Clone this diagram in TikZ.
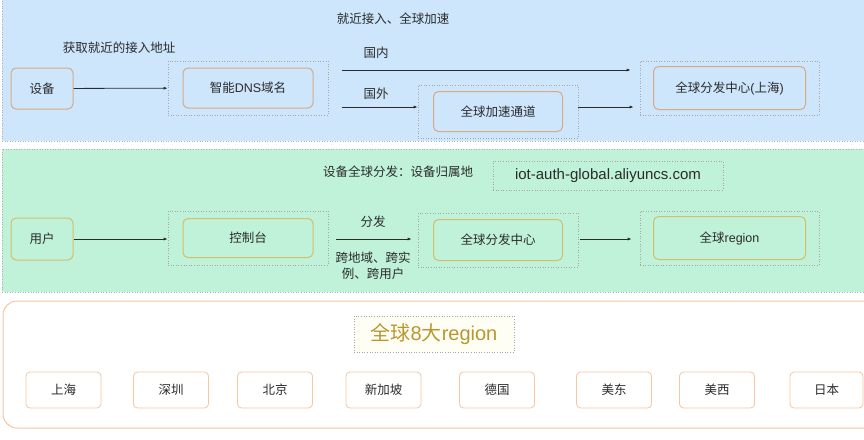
\documentclass[tikz,border=0pt]{standalone}
\usepackage{fontspec}
\setmainfont{Noto Sans CJK SC}
\newfontfamily\latfont{Liberation Sans}
\newcommand{\lat}[1]{{\latfont #1}}
\usetikzlibrary{arrows.meta,positioning}
\definecolor{skyfill}{HTML}{CDE6FC}
\definecolor{mintfill}{HTML}{BFF2D9}
\definecolor{rustline}{HTML}{D9A982}
\definecolor{oliveline}{HTML}{D4BE6B}
\definecolor{peachline}{HTML}{F5C6A0}
\definecolor{goldtext}{HTML}{B8972E}
\definecolor{inktext}{HTML}{2B2B2B}

\begin{document}
\begin{tikzpicture}[
  x=1pt, y=1pt,
  every node/.style={text=inktext, font=\fontsize{12.5pt}{15pt}\selectfont},
  panel/.style={draw=gray!60, dotted, line width=0.6pt},
  holder/.style={draw=gray!70, dotted, line width=0.6pt, minimum width=160pt, minimum height=54pt, inner sep=0pt},
  box/.style={draw=rustline, rounded corners=5pt, line width=1pt, minimum width=130pt, minimum height=40pt, inner sep=0pt, align=center},
  regionbox/.style={draw=peachline, rounded corners=4pt, line width=0.8pt, fill=white, minimum width=75pt, minimum height=36pt, inner sep=0pt},
  lbl/.style={inner sep=1pt, align=center},
  flow/.style={-{Latex[length=4pt,width=3pt]}, draw=inktext, line width=0.8pt}
]
\useasboundingbox (0,0) rectangle (864,-439);

% top panel
\fill[skyfill] (2,2) rectangle (870,-141);
\draw[panel] (2,2) rectangle (870,-141);
\node[lbl] (title1) at (393,-19) {就近接入、全球加速};
\node[lbl] (hint) at (119,-48) {获取就近的接入地址};
\node[box, minimum width=62pt, minimum height=41pt] (dev) at (42,-88.5) {设备};
\node[holder] (dnsHold) at (248,-88) {};
\node[box] (dns) at (dnsHold) {智能\lat{DNS}域名};
\node[holder, minimum height=53pt] (accelHold) at (498,-111.5) {};
\node[box, minimum width=129pt] (accel) at (accelHold) {全球加速通道};
\node[holder, minimum width=179pt] (hubHold) at (729.5,-88) {};
\node[box, minimum width=152pt, minimum height=43pt] (hub) at (hubHold) {全球分发中心\lat{(}上海\lat{)}};
\node[lbl] (dom) at (376,-53) {国内};
\node[lbl] (abroad) at (376,-94) {国外};
\draw[flow] (dev) -- (dnsHold);
\draw[flow, shorten <=14pt, shorten >=9pt] ([yshift=18pt]dnsHold.east) -- ([yshift=18pt]hubHold.west);
\draw[flow, shorten <=14pt] ([yshift=-19pt]dnsHold.east) -- ([yshift=-19pt]dnsHold.east -| accelHold.west);
\draw[flow, shorten >=6pt] ([yshift=-19pt]hubHold.west -| accelHold.east) -- ([yshift=-19pt]hubHold.west);

% middle panel
\fill[mintfill] (2,-149) rectangle (870,-292);
\draw[panel] (2,-149) rectangle (870,-292);
\node[lbl] (title2) at (398,-172) {设备全球分发：设备归属地};
\node[draw=gray!70, dotted, line width=0.6pt, minimum width=230pt, minimum height=29pt, inner sep=0pt,
  font=\fontsize{15pt}{18pt}\selectfont] (domain) at (608,-175.5) {\lat{iot-auth-global.aliyuncs.com}};
\node[box, draw=oliveline, minimum width=62pt, minimum height=42pt] (user) at (42,-239) {用户};
\node[holder] (consoleHold) at (248,-238) {};
\node[box, draw=oliveline, minimum height=39pt] (console) at (consoleHold) {控制台};
\node[holder] (distHold) at (498,-240) {};
\node[box, draw=oliveline, minimum width=129pt, minimum height=41pt] (dist) at (distHold) {全球分发中心};
\node[holder, minimum width=179pt] (regionHold) at (729.5,-238) {};
\node[box, draw=oliveline, minimum width=152pt, minimum height=43pt] (region) at (regionHold) {全球\lat{region}};
\node[lbl] (fanout) at (373,-222) {分发};
\node[lbl, font=\fontsize{12.5pt}{16pt}\selectfont] (scope) at (373,-266) {跨地域、跨实\\例、跨用户};
\draw[flow] (user) -- ([yshift=-1pt]consoleHold.west);
\draw[flow, shorten <=8pt, shorten >=6pt] ([yshift=-1pt]consoleHold.east) -- ([yshift=-1pt]consoleHold.east -| distHold.west);
\draw[flow, shorten <=2pt, shorten >=8pt] ([yshift=1pt]distHold.east) -- ([yshift=1pt]distHold.east -| regionHold.west);

% bottom panel
\draw[peachline, line width=1pt, fill=white, rounded corners=14pt] (3,-301) rectangle (880,-428);
\node[draw=gray!70, dotted, line width=0.6pt, fill=white!96!yellow, minimum width=160pt, minimum height=36pt, inner sep=0pt,
  text=goldtext, font=\fontsize{20pt}{24pt}\selectfont] (regions) at (434,-334) {全球\lat{8}大\lat{region}};
\node[regionbox] (sh) at (63.5,-390) {上海};
\node[regionbox] (sz) at (171,-390) {深圳};
\node[regionbox] (bj) at (275,-390) {北京};
\node[regionbox] (sg) at (383.5,-390) {新加坡};
\node[regionbox] (de) at (497,-390) {德国};
\node[regionbox] (use) at (614,-390) {美东};
\node[regionbox] (usw) at (717,-390) {美西};
\node[regionbox, minimum width=73pt] (jp) at (826.5,-390) {日本};
\end{tikzpicture}
\end{document}
